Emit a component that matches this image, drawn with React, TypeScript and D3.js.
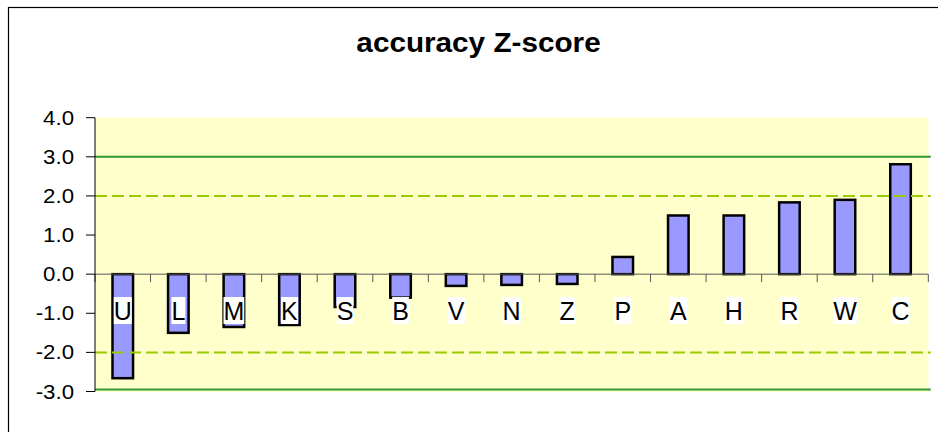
import React, { useRef, useEffect } from 'react';
import * as d3 from 'd3';

const categories = ["U", "L", "M", "K", "S", "B", "V", "N", "Z", "P", "A", "H", "R", "W", "C"];
const zScores = [-2.66, -1.5, -1.35, -1.3, -0.84, -0.6, -0.3, -0.275, -0.25, 0.44, 1.5, 1.5, 1.835, 1.9, 2.81];
const yTickValues = [4, 3, 2, 1, 0, -1, -2, -3];
const solidLimits = [3, -2.95];
const dashedLimits = [2, -2];
const labelLevel = -0.93;

const WIDTH = 938;
const HEIGHT = 432;

const App = () => {
    const svgRef = useRef<SVGSVGElement>(null);

    useEffect(() => {
        const svg = d3.select(svgRef.current);
        svg.selectAll("*").remove();

        const left = 95, right = 928.3, top = 117.7, bottom = 391.5;

        const x = d3.scaleBand<string>()
            .domain(categories)
            .range([left, right])
            .padding(0);

        const y = d3.scaleLinear()
            .domain([-3, 4])
            .range([bottom, top]);

        const font = "'Liberation Sans', Arial, sans-serif";

        // outer chart frame (runs off the page right and bottom)
        svg.append("rect")
            .attr("x", 8.5).attr("y", 7.5)
            .attr("width", 1000).attr("height", 500)
            .attr("fill", "#fff")
            .attr("stroke", "#000")
            .attr("stroke-width", 1.2);

        svg.append("text")
            .attr("transform", `translate(478.5,52) scale(1.1,1)`)
            .attr("text-anchor", "middle")
            .attr("font-family", font)
            .attr("font-weight", "bold")
            .attr("font-size", 27)
            .text("accuracy Z-score");

        // plot area
        svg.append("rect")
            .attr("x", left).attr("y", top)
            .attr("width", right - left).attr("height", bottom - top + 0.5)
            .attr("fill", "#ffffcc");

        // bars
        const barW = x.bandwidth() * 0.37;
        svg.append("g").selectAll("rect")
            .data(categories.map((c, i) => ({ c, v: zScores[i] })))
            .enter()
            .append("rect")
            .attr("x", d => x(d.c)! + (x.bandwidth() - barW) / 2)
            .attr("y", d => y(Math.max(0, d.v)))
            .attr("width", barW)
            .attr("height", d => Math.abs(y(d.v) - y(0)))
            .attr("fill", "#9999ff")
            .attr("stroke", "#000")
            .attr("stroke-width", 2.5);

        // limit lines
        solidLimits.forEach(v => {
            svg.append("line")
                .attr("x1", left).attr("x2", right + 2.5)
                .attr("y1", y(v)).attr("y2", y(v))
                .attr("stroke", "#339933")
                .attr("stroke-width", 2);
        });
        dashedLimits.forEach(v => {
            svg.append("line")
                .attr("x1", left).attr("x2", right + 2.5)
                .attr("y1", y(v)).attr("y2", y(v))
                .attr("stroke", "#99cc00")
                .attr("stroke-width", 2)
                .attr("stroke-dasharray", "12,5");
        });

        // zero axis with category ticks
        const zeroY = y(0);
        svg.append("line")
            .attr("x1", left).attr("x2", right)
            .attr("y1", zeroY).attr("y2", zeroY)
            .attr("stroke", "#555").attr("stroke-width", 1);
        const bounds = categories.map(c => x(c)!).concat([right]);
        svg.append("g").selectAll("line")
            .data(bounds)
            .enter()
            .append("line")
            .attr("x1", d => d).attr("x2", d => d)
            .attr("y1", zeroY).attr("y2", zeroY + 8)
            .attr("stroke", "#555").attr("stroke-width", 1);

        // value axis
        const yAxis = svg.append("g");
        yAxis.append("line")
            .attr("x1", left).attr("x2", left)
            .attr("y1", top).attr("y2", bottom)
            .attr("stroke", "#000").attr("stroke-width", 1);
        yTickValues.forEach(v => {
            yAxis.append("line")
                .attr("x1", left - 9).attr("x2", left)
                .attr("y1", y(v)).attr("y2", y(v))
                .attr("stroke", "#000").attr("stroke-width", 1);
            yAxis.append("text")
                .attr("transform", `translate(${left - 21},${y(v) + 7}) scale(1.14,1)`)
                .attr("text-anchor", "end")
                .attr("font-family", font)
                .attr("font-size", 19.5)
                .text(d3.format(".1f")(v).replace("−", "-"));
        });

        // category labels on white boxes
        const labelG = svg.append("g");
        categories.forEach(c => {
            const g = labelG.append("g");
            const cx = x(c)! + x.bandwidth() / 2;
            const t = g.append("text")
                .attr("x", cx)
                .attr("y", y(labelLevel) + 9)
                .attr("text-anchor", "middle")
                .attr("font-family", font)
                .attr("font-size", 25)
                .text(c);
            const bb = (t.node() as SVGTextElement).getBBox();
            g.insert("rect", "text")
                .attr("x", bb.x)
                .attr("y", y(labelLevel) - 13.5)
                .attr("width", bb.width)
                .attr("height", 27)
                .attr("fill", "#fff");
        });
    }, []);

    return (
        <svg
            ref={svgRef}
            width={WIDTH}
            height={HEIGHT}
            style={{ position: 'absolute', left: 0, top: 0, overflow: 'hidden' }}
        ></svg>
    );
};

export default App;
